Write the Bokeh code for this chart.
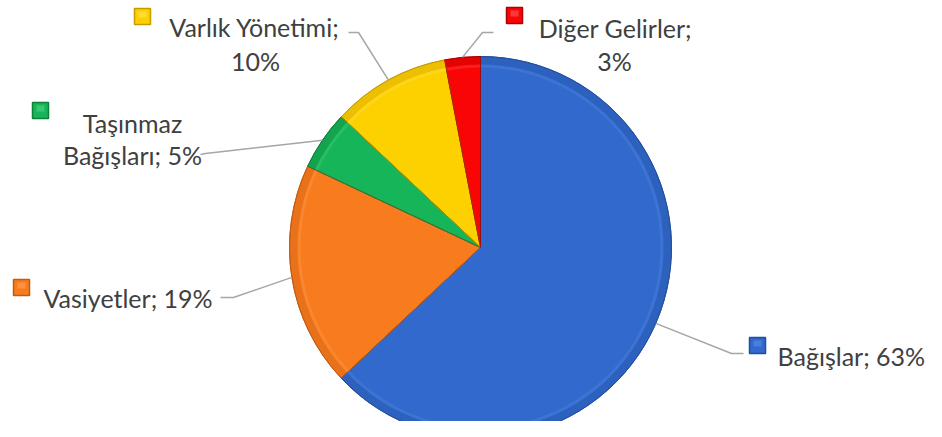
import numpy as np
from bokeh.plotting import figure
from bokeh.models import Range1d, ColumnDataSource
from bokeh.embed import file_html
from bokeh.resources import INLINE
from bokeh.core.properties import value

# ---- data ----
categories = ["Bağışlar", "Vasiyetler", "Taşınmaz Bağışları", "Varlık Yönetimi", "Diğer Gelirler"]
shares = [63, 19, 5, 10, 3]
label_lines = [
    ["Bağışlar; 63%"],
    ["Vasiyetler; 19%"],
    ["Taşınmaz", "Bağışları; 5%"],
    ["Varlık Yönetimi;", "10%"],
    ["Diğer Gelirler;", "3%"],
]

# ---- styles ----
colors = ["#3169CC", "#F87C1E", "#17B55A", "#FDD000", "#FA0505"]
dark_colors = ["#234E9E", "#C45A10", "#0E7F3D", "#C79A00", "#B00000"]
light_colors = ["#5A8EE6", "#FFA25A", "#4FD484", "#FFE45A", "#FF5A5A"]
text_color = "#404040"
leader_color = "#A6A6A6"
FONT = "Lato"
FSIZE = "25px"

# ---- layout (pixel coordinates; y downward) ----
CX, CY, R = 480, 247, 191
# leader elbow + end points
elbows = [(731, 353), (233, 297), (205, 153), (358, 32), (482, 32)]
ends = [(743, 353), (220, 297), (200, 154), (348, 32), (493, 32)]
# legend key square centers
keys = [(757, 345), (21, 287), (40, 110), (142, 16), (514, 15)]
# text: (x, baseline) per line and alignment
text_pos = [
    [(777, 355, "left")],
    [(43, 297, "left")],
    [(132, 122, "center"), (132, 154, "center")],
    [(254, 26, "center"), (255, 60, "center")],
    [(615, 27, "center"), (614, 60, "center")],
]

W, H = 926, 421
p = figure(width=W, height=H, output_backend="svg", toolbar_location=None,
           x_range=Range1d(0, W), y_range=Range1d(-H, 0),
           min_border=0)
p.axis.visible = False
p.grid.visible = False
p.outline_line_color = None
p.background_fill_color = "white"
p.border_fill_color = "white"

vals = np.array(shares, dtype=float)
frac = vals / vals.sum()
cum = np.concatenate([[0], np.cumsum(frac)])
theta0 = 2 * np.pi * cum[:-1]
theta1 = 2 * np.pi * cum[1:]
start = np.pi / 2 - theta0
end = np.pi / 2 - theta1
mid = (theta0 + theta1) / 2

src = ColumnDataSource(dict(x=[CX] * len(vals), y=[-CY] * len(vals),
                            start=start, end=end, color=colors,
                            dark=dark_colors, light=light_colors, cat=categories))

# base slices
p.wedge(x="x", y="y", radius=R, start_angle="start", end_angle="end",
        direction="clock", fill_color="color", line_color="dark",
        line_width=1, source=src)
# bevel: outer darker ring + inner highlight
p.annular_wedge(x="x", y="y", inner_radius=R - 8, outer_radius=R,
                start_angle="start", end_angle="end", direction="clock",
                fill_color="dark", fill_alpha=0.3, line_color=None, source=src)
p.annular_wedge(x="x", y="y", inner_radius=R - 11, outer_radius=R - 8,
                start_angle="start", end_angle="end", direction="clock",
                fill_color="light", fill_alpha=0.3, line_color=None, source=src)
# slice outlines
p.wedge(x="x", y="y", radius=R, start_angle="start", end_angle="end",
        direction="clock", fill_color=None, line_color="dark",
        line_width=1, line_alpha=0.8, source=src)

# leader lines
for i in range(len(vals)):
    sx = CX + R * np.sin(mid[i])
    sy = CY - R * np.cos(mid[i])
    xs = [sx, elbows[i][0], ends[i][0]]
    ys = [-sy, -elbows[i][1], -ends[i][1]]
    p.line(xs, ys, line_color=leader_color, line_width=1.5)

# legend keys
kx = [k[0] for k in keys]
ky = [-k[1] for k in keys]
p.rect(x=kx, y=ky, width=16, height=16, fill_color=colors,
       line_color=dark_colors, line_width=1.5)
p.rect(x=kx, y=[y + 2 for y in ky], width=8, height=6, fill_color=light_colors,
       fill_alpha=0.6, line_color=None)

# labels
for i, lines in enumerate(label_lines):
    for line_txt, (tx, ty, al) in zip(lines, text_pos[i]):
        p.text(x=[tx], y=[-ty], text=[line_txt], text_align=al,
               text_baseline="alphabetic", text_font=value(FONT),
               text_font_size=FSIZE, text_color=text_color)

open("out.html", "w").write(file_html(p, INLINE))
